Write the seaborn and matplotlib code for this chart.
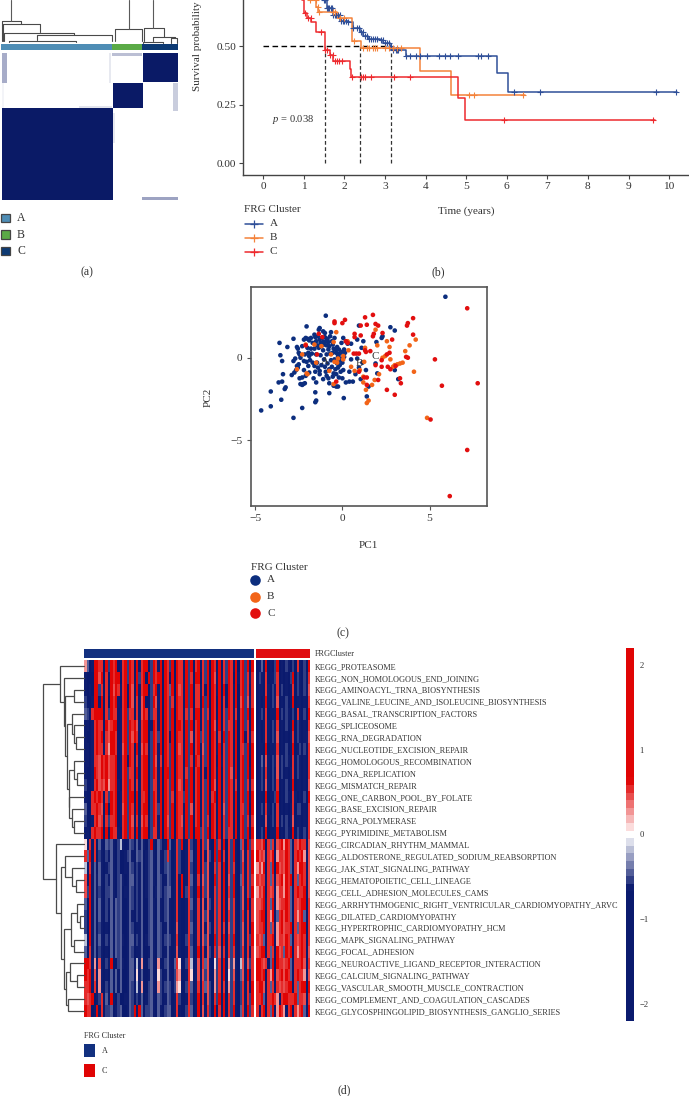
import numpy as np
import pandas as pd
import matplotlib
matplotlib.use("Agg")
import matplotlib.pyplot as plt
from matplotlib.colors import LinearSegmentedColormap, ListedColormap
from matplotlib.patches import Rectangle
import seaborn as sns

W, H = 689, 1096
sns.set_style("white")
plt.rcParams["font.family"] = ["Liberation Serif", "DejaVu Sans"]
plt.rcParams["mathtext.fontset"] = "custom"
plt.rcParams["mathtext.it"] = "Liberation Serif:italic"
plt.rcParams["mathtext.rm"] = "Liberation Serif"
TXT = "#333333"

# ---------- panel (a) data
cluster_sizes = [111, 30, 36]
cluster_colors = ["#4e8db5", "#5aaa46", "#0d3a73"]
consensus_blocks = [  # row0,row1,col0,col1,value
    (0, 30, 1, 6, 0.36), (0, 3, 111, 141, 0.28), (30, 58, 172, 177, 0.22),
    (144, 147, 141, 177, 0.40), (53, 55, 78, 111, 0.12), (0, 30, 108, 110, 0.10),
    (60, 90, 112, 114, 0.10), (30, 55, 1, 3, 0.05),
    (0, 29, 142, 177, 1.0), (30, 55, 112, 142, 1.0), (55, 147, 1, 112, 1.0),
]
dend_a = [  # y_top, x_left, x_right, y_end_left, y_end_right
    (20.5, 2, 21, 41, 24), (24, 3, 39.5, 41, 32), (32.5, 4, 74, 41, 35),
    (35, 37, 112, 40, 41), (40.5, 9, 76, 42, 42), (28.5, 115, 142, 41, 41),
    (27.5, 143.5, 164, 41, 36.5), (36.5, 153, 175, 41, 38), (41.5, 143, 163, 43, 43),
    (38, 171, 177, 43, 43),
]
dend_a_stems = [(11, 0, 20.5), (128.5, 0, 28.5), (153, 0, 27.5)]

# ---------- panel (b) data
km_a_t = [0, 1.30, 1.48, 1.56, 1.73, 1.89, 2.10, 2.22, 2.38, 2.47, 2.59, 2.88, 2.96, 3.12, 3.16, 3.53, 5.75, 6.04, 10.2]
km_a_s = [1, 0.75, 0.698, 0.662, 0.634, 0.610, 0.605, 0.577, 0.563, 0.544, 0.530, 0.527, 0.516, 0.500, 0.484, 0.459, 0.385, 0.306, 0.306]
km_b_t = [0, 1.15, 1.31, 1.36, 1.81, 2.20, 2.40, 3.86, 4.63, 6.45]
km_b_s = [1, 0.698, 0.670, 0.648, 0.620, 0.524, 0.494, 0.395, 0.293, 0.293]
km_c_t = [0, 0.96, 1.00, 1.07, 1.19, 1.31, 1.52, 1.64, 1.73, 2.14, 2.16, 4.79, 4.97, 9.65]
km_c_s = [1, 0.698, 0.641, 0.620, 0.605, 0.563, 0.484, 0.463, 0.437, 0.403, 0.370, 0.278, 0.185, 0.185]
cens_a = [1.50, 1.53, 1.56, 1.60, 1.63, 1.66, 1.70, 1.73, 1.77, 1.80, 1.85, 1.88, 1.92, 1.96, 2.00, 2.05, 2.10, 2.22,
          2.30, 2.35, 2.40, 2.45, 2.50, 2.55, 2.60, 2.65, 2.70, 2.75, 2.80, 2.90, 2.95, 3.00, 3.05, 3.10, 3.15, 3.20, 3.28, 3.30, 3.32,
          3.53, 3.62, 3.76, 3.86, 4.04, 4.33, 4.49, 4.60, 4.81, 5.30, 5.36, 5.55, 6.18, 6.81, 9.68, 10.17]
cens_b = [1.15, 1.30, 1.35, 1.38, 1.72, 1.77, 1.90, 2.00, 2.23, 2.45, 2.55, 2.60, 2.70, 2.75, 2.80, 3.00, 3.10, 3.20, 3.30, 3.40, 5.07, 5.20, 6.40]
cens_c = [1.04, 1.10, 1.17, 1.42, 1.52, 1.58, 1.65, 1.72, 1.77, 1.82, 1.87, 1.93, 2.20, 2.40, 2.45, 2.52, 2.66, 3.22, 3.61, 5.93, 9.60]
median_times = [1.52, 2.39, 3.16]
km_colors = {"A": "#2f4f98", "B": "#f4823a", "C": "#ee2a2e"}

# ---------- panel (c) data
pc_a = [(5.9,3.7),(-4.65,-3.2),(-4.1,-2.95),(-4.1,-2.05),(-3.5,-2.55),(-2.8,-3.65),(-2.3,-3.05),(-1.55,-2.7),(-1.5,-2.6),
(-1.55,-2.1),(0.08,-2.45),(-0.75,-2.15),(-3.65,-1.5),(-3.45,-1.45),(-3.25,-1.8),(-3.3,-1.9),(-2.4,-1.6),(-2.3,-1.65),
(-2.25,-1.6),(-2.15,-1.55),(-1.65,-1.25),(-1.5,-1.5),(-1.1,-1.3),(-0.8,-1.25),(-0.75,-1.55),(-0.5,-1.7),(-0.35,-1.75),
(-0.25,-1.75),(0.2,-1.5),(0.4,-1.45),(0.6,-1.45),(1.05,-1.3),(1.4,-2.35),(1.5,-1.75),(-3.6,0.9),(-3.55,0.15),(-3.45,-0.2),
(-3.4,-1.0),(-3.15,0.65),(-2.9,-1.05),(-2.8,1.15),(-2.75,-0.9),(-2.6,0.65),(-2.55,0.55),(-2.5,0.3),(-2.45,0.2),(-2.8,-0.2),
(-2.7,-0.05),(-2.6,-0.5),(-2.55,-0.6),(-2.5,-0.4),(-2.45,-1.25),(-2.3,-1.2),(-2.2,-0.75),(-2.1,-1.1),(-2.05,1.9),(-2.0,0.6),
(-1.95,0.3),(-1.9,0.1),(-1.85,-0.15),(-0.95,2.55),(-1.35,1.7),(-1.3,1.8),(-1.1,1.6),(-1.0,1.5),(0.95,1.95),(2.75,1.85),
(3.0,1.65),(2.3,1.3),(2.25,1.2),(1.95,0.95),(1.2,1.0),(0.85,1.1),(0.5,0.85),(1.1,0.6),(1.9,-0.35),(2.0,-0.95),(3.0,-0.75),
(3.2,-1.3),(1.35,-0.75),(0.95,-0.6),(1.15,-0.3),(0.85,-0.05),(0.75,-1.0),(0.4,-0.85),(-2.2,1.1),(-2.1,1.2),(-2.0,1.15),
(-1.9,1.05),(-1.8,1.2),(-1.7,0.9),(-1.6,1.4),(-1.55,1.25),(-1.5,1.0),(-1.45,0.75),(-1.4,1.3),(-1.3,1.1),(-1.25,0.9),
(-1.2,0.7),(-1.15,1.2),(-1.1,0.95),(-1.05,0.8),(-1.0,1.25),(-0.95,1.0),(-0.9,0.75),(-0.85,1.15),(-0.8,0.95),(-0.75,0.7),
(-0.7,1.3),(-0.65,1.55),(-0.6,1.0),(-0.55,0.8),(-0.5,0.55),(-0.45,1.2),(-0.4,0.5),(-0.35,0.3),(-0.3,0.65),(-0.25,0.1),
(-0.2,0.5),(-0.15,0.25),(-0.1,-0.05),(-0.05,0.9),(0.0,-0.3),(0.05,1.2),(0.1,0.5),(0.15,0.3),(0.2,1.0),(0.3,0.85),(0.5,-0.1),
(-2.3,0.7),(-2.15,0.2),(-2.05,-0.25),(-1.95,-0.5),(-1.8,0.55),(-1.75,0.25),(-1.7,-0.3),(-1.6,0.55),(-1.55,-0.85),(-1.5,0.2),
(-1.45,-0.3),(-1.4,-0.6),(-1.35,0.6),(-1.3,-0.8),(-1.25,0.15),(-1.2,-0.45),(-1.1,0.45),(-1.05,-0.1),(-1.0,-0.55),(-0.95,-0.85),
(-0.9,0.2),(-0.85,-0.35),(-0.8,0.5),(-0.75,-0.7),(-0.7,0.25),(-0.65,-0.15),(-0.6,-0.55),(-0.55,0.3),(-0.5,-0.95),(-0.45,-0.1),
(-0.4,-0.7),(-0.35,-1.0),(-0.3,-0.35),(-0.25,-0.6),(-0.2,-0.2),(-0.15,-0.45),(-0.1,-0.85),(-0.05,0.35),(0.05,-0.75),(0.1,0.05),
(-1.3,-1.0),(-0.9,-1.1),(-0.55,-1.15),(-0.2,-1.2),(0.0,-1.25),(-1.6,-0.5),(-1.9,-0.9),(-2.4,0.0),(-2.65,-0.75),(-2.2,-0.2)]
pc_b = [(4.85,-3.65),(1.4,-2.75),(1.5,-2.6),(1.35,-1.95),(1.2,-1.5),(1.7,-1.65),(1.85,-1.35),(2.1,-1.0),(4.1,-0.85),(4.2,1.1),
(3.85,0.75),(3.6,0.4),(3.45,-0.3),(3.3,-0.35),(3.15,-0.4),(3.0,-0.45),(2.9,-0.55),(2.75,-0.1),(2.7,0.65),(2.55,1.0),(2.45,0.1),
(2.3,0.0),(2.0,0.75),(1.9,1.7),(1.3,0.6),(1.25,-0.25),(1.2,-1.15),(1.0,-0.75),(0.7,-0.8),(0.5,-0.55),(0.35,0.45),(0.3,1.0),
(0.05,0.1),(0.05,-0.1),(-0.25,-0.05),(-0.3,-0.3),(-0.45,-0.25),(-0.5,0.95),(-0.65,0.2),(-0.75,-0.8),(-0.5,-1.6),(-0.35,1.55),
(-1.2,0.7),(-1.5,-0.3),(-1.6,0.8),(-2.0,-1.0),(-2.05,-0.95),(-2.1,0.8),(-2.3,0.2),(-2.6,-0.7)]
pc_c = [(7.15,3.0),(5.3,-0.1),(7.75,-1.55),(5.7,-1.7),(5.05,-3.75),(7.15,-5.6),(6.15,-8.4),(4.05,2.4),(3.75,2.1),(3.7,1.95),
(4.05,1.4),(3.75,0.0),(3.65,0.05),(3.3,-1.25),(3.35,-1.55),(3.0,-2.25),(2.55,-1.95),(2.75,-0.7),(2.6,-0.55),(3.05,-0.5),
(2.85,1.1),(2.7,0.3),(2.55,0.2),(2.25,-0.15),(2.25,-0.55),(2.05,-1.35),(1.9,-0.45),(2.05,1.95),(1.9,2.05),(1.75,2.6),(1.8,1.45),
(1.75,1.3),(2.3,1.5),(1.3,2.45),(1.4,2.0),(1.05,1.95),(1.05,1.35),(0.7,1.45),(0.7,1.25),(1.3,0.45),(1.35,0.35),(1.6,0.4),
(0.95,0.25),(0.8,0.25),(0.65,0.25),(0.95,-0.85),(1.4,-1.65),(1.25,-1.2),(1.4,-1.2),(-0.45,2.2),(-0.45,2.1),(0.0,2.1),(0.15,2.3),
(-1.35,1.45),(-1.15,1.25),(-2.1,0.75),(-1.45,0.2),(0.2,1.0),(0.3,0.9),(-0.35,-1.45)]
cluster_names = ["A", "B", "C"]
pc_colors = {"A": "#0c2e7e", "B": "#f26418", "C": "#e20f0f"}

# ---------- panel (d) data
pathways = ["KEGG_PROTEASOME","KEGG_NON_HOMOLOGOUS_END_JOINING","KEGG_AMINOACYL_TRNA_BIOSYNTHESIS",
"KEGG_VALINE_LEUCINE_AND_ISOLEUCINE_BIOSYNTHESIS","KEGG_BASAL_TRANSCRIPTION_FACTORS","KEGG_SPLICEOSOME","KEGG_RNA_DEGRADATION",
"KEGG_NUCLEOTIDE_EXCISION_REPAIR","KEGG_HOMOLOGOUS_RECOMBINATION","KEGG_DNA_REPLICATION","KEGG_MISMATCH_REPAIR",
"KEGG_ONE_CARBON_POOL_BY_FOLATE","KEGG_BASE_EXCISION_REPAIR","KEGG_RNA_POLYMERASE","KEGG_PYRIMIDINE_METABOLISM",
"KEGG_CIRCADIAN_RHYTHM_MAMMAL","KEGG_ALDOSTERONE_REGULATED_SODIUM_REABSORPTION","KEGG_JAK_STAT_SIGNALING_PATHWAY",
"KEGG_HEMATOPOIETIC_CELL_LINEAGE","KEGG_CELL_ADHESION_MOLECULES_CAMS","KEGG_ARRHYTHMOGENIC_RIGHT_VENTRICULAR_CARDIOMYOPATHY_ARVC",
"KEGG_DILATED_CARDIOMYOPATHY","KEGG_HYPERTROPHIC_CARDIOMYOPATHY_HCM","KEGG_MAPK_SIGNALING_PATHWAY","KEGG_FOCAL_ADHESION",
"KEGG_NEUROACTIVE_LIGAND_RECEPTOR_INTERACTION","KEGG_CALCIUM_SIGNALING_PATHWAY","KEGG_VASCULAR_SMOOTH_MUSCLE_CONTRACTION",
"KEGG_COMPLEMENT_AND_COAGULATION_CASCADES","KEGG_GLYCOSPHINGOLIPID_BIOSYNTHESIS_GANGLIO_SERIES"]
level_values = [-1.4, -0.6, -0.5, -0.46, -0.2, 0.12, 0.28, 0.42, 0.54, 1.4]
# one digit per sample, read as a level of level_values
heat_a = [
"630199880929 890189298091 899029819098 290988192908 918290981908 298190892919",
"100099790819 899089298092 890929899098 190988192809 908290971908 298091892818",
"101099280819 798189197091 899028919098 390978192908 818190981909 198190892808",
"200199190809 891089197081 790029719098 280988192908 819290980908 198190792718",
"320899990829 880189288081 798028819098 290988182809 918280980908 298180892919",
"110189880978 990189298971 899019819098 290998192908 918290971908 288190892809",
"100189890879 980189297981 899029829098 190988192708 928290981809 298190891818",
"110189880869 980179298091 798029819098 290978192908 917290981908 298190882919",
"110188798978 890189198081 899029718098 290988192809 818290980918 298190892909",
"100198798978 890189288091 899029819099 290988182908 918190981908 297190892919",
"200189787968 891089298081 899028819098 290978192908 918290971908 298180892818",
"100898980829 890189299091 889029819098 280988292908 918290891908 298190892919",
"300889870919 890179298191 899029829098 290988192708 918290981907 298190882909",
"200189780828 890189297081 798029819097 290987192908 918280981908 298190892818",
"110898890919 881089298091 899028819098 290988192909 928290981908 288190892919",
"508180310323 102410132031 310291032019 301829018201 908271092819 082910381928",
"839180210213 102001231032 301231031028 201820018301 908172092918 082910271829",
"418130310123 102001132021 301231031023 201820018201 908271082819 082810281829",
"719131310213 102310133021 301231032013 201819018301 807271092819 072910381828",
"729131210223 102301132021 301230132023 301819028201 908271082819 082910271829",
"309130310213 032300132021 300231031023 101810018301 807172082819 072810271918",
"209130310203 032300131021 300231031023 101810018201 807271082809 082810281818",
"209130210103 032300132011 300231032013 101710018301 807172082818 072810271819",
"409131310213 032310133021 301231032023 201810028201 807271092809 082910271829",
"308130210103 032300132011 300131032013 101710018301 908172082718 082810281818",
"998160710219 002310133041 600231061023 103850028401 708371052819 062610471728",
"989170610103 031300133051 300131052013 102760018501 707271062819 052710371918",
"889180610213 031300132041 600231062023 202650028301 808372062808 062810281819",
"878901280319 102001132021 301231032013 201820018201 908172082919 082810281829",
"988019180223 012300132919 302231031023 301810028301 907182091819 082910381928",
]
heat_c = [
"013090102901 021020810209", "021080112801 010290210218", "011081021802 010180210217",
"010191021701 020190110108", "012080111902 021020810209", "010181021801 020190210108",
"010181021701 010180210117", "011090111801 020190120208", "013071021702 021080210108",
"012081020702 010180210108", "012071021801 020190110107", "011090112901 021081010209",
"012081020801 010180220108", "011070120802 020170110108", "012090111901 021090210208",
"887908380789 698308798807", "978708790688 798308989607", "686908390978 798308699807",
"878808380789 698908389807", "687908780688 698308988907", "778918390678 898308789908",
"789908690389 798308689308", "788908380689 788908389908", "878308890688 798308789808",
"789918380978 398908689807", "998780390988 789308889708", "998908690789 798308988607",
"899708380878 789908389909", "889308898608 998889388708", "808908390698 608908689309",
]
# tree = (height_px, child, child); a leaf is a row index
row_tree = (43, (59.5, 0, (64, 1, (65, (73.5, 2, 3), (67, (71.7, 4, (74, 5, (75.7, 6, 7))), (68.5, (74, 8, (76.7, 9, 10)), (69, 11, (71.7, 12, (74, 13, 14))))))))
            , (56, 15, (61, (65, 16, (72, 17, (76, 18, 19))), (64, (71, (77, 20, (80, 21, 22)), (74, 23, 24)), (66, (69.5, 25, (77, 26, 27)), (67.5, 28, 29))))))

# ---------- helpers
fig = plt.figure(figsize=(W / 100, H / 100), dpi=100, facecolor="white")
def box(l, t, r, b, **kw):
    return fig.add_axes([l / W, 1 - b / H, (r - l) / W, (b - t) / H], **kw)
ov = box(0, 0, W, H, zorder=10)
ov.set_xlim(0, W); ov.set_ylim(H, 0); ov.axis("off"); ov.patch.set_alpha(0)
FS = 8.0
def label(x, y, s, size=FS, ha="left", **kw):
    ov.text(x, y, s, fontsize=size, ha=ha, va="center", color=TXT, **kw)

# ---------- (a)
ax = box(1, 0, 178, 43)
ax.set_xlim(1, 178); ax.set_ylim(43, 0); ax.axis("off")
for y, xl, xr, el, er in dend_a:
    ax.plot([xl, xl, xr, xr], [el, y, y, er], color="#4a4a4a", lw=0.8, clip_on=False)
for x, y0, y1 in dend_a_stems:
    ax.plot([x, x], [y0, y1], color="#5a5a5a", lw=0.8)

ax = box(1, 44, 178, 50)
ann = np.repeat(np.arange(3), cluster_sizes)[None, :]
sns.heatmap(ann, ax=ax, cmap=ListedColormap(cluster_colors), cbar=False, xticklabels=False, yticklabels=False, rasterized=True)

cons = np.zeros((147, 177))
for r0, r1, c0, c1, v in consensus_blocks:
    cons[r0:r1, c0:c1] = v
ax = box(0.5, 53, 177.5, 200)
cm_cons = LinearSegmentedColormap.from_list("cons", ["white", "#0a1a66"])
sns.heatmap(cons, ax=ax, cmap=cm_cons, vmin=0, vmax=1, cbar=False, xticklabels=False, yticklabels=False, rasterized=True)

for yy, nm, c in zip([218, 234.5, 251], cluster_names, cluster_colors):
    ov.add_patch(Rectangle((1, yy - 4.3), 8.8, 8.6, fc=c, ec="#444444", lw=0.9))
    label(17, yy, nm, 8.5)
label(86.5, 272.5, "(a)", 8.5, ha="center")

# ---------- (b)
ax = box(243.3, 0, 689, 175)
ax.set_xlim(-0.49, 10.49); ax.set_ylim(-0.05, 0.698)
sets = [("A", km_a_t, km_a_s, cens_a), ("B", km_b_t, km_b_s, cens_b), ("C", km_c_t, km_c_s, cens_c)]
ax.plot([0, median_times[-1]], [0.5, 0.5], color="black", lw=1.0, ls=(0, (4, 2.5)), zorder=1)
for mt in median_times:
    ax.plot([mt, mt], [0, 0.5], color="#333333", lw=0.9, ls=(0, (3, 2)), zorder=1)
for nm, t, s, cens in sets:
    df = pd.DataFrame({"t": t, "s": s})
    sns.lineplot(data=df, x="t", y="s", ax=ax, color=km_colors[nm], lw=1.1, drawstyle="steps-post",
                 estimator=None, sort=False, legend=False, zorder=3)
    t_arr, s_arr = np.array(t), np.array(s)
    cs = s_arr[np.searchsorted(t_arr, cens, side="right") - 1]
    sns.scatterplot(x=cens, y=cs, ax=ax, marker="+", color=km_colors[nm], s=24, linewidth=0.8, legend=False, zorder=4)
ax.set_xticks(range(11)); ax.set_yticks([0, 0.25, 0.5]); ax.set_yticklabels(["0.00", "0.25", "0.50"])
ax.set_xlabel(""); ax.set_ylabel("")
sns.despine(ax=ax)
for sp in ["left", "bottom"]:
    ax.spines[sp].set_color("#444444"); ax.spines[sp].set_linewidth(1.0)
ax.tick_params(length=3, width=0.8, color="#444444", labelcolor=TXT, labelsize=8.2, pad=2, left=True, bottom=True)
ax.patch.set_alpha(0)
label(272, 119.5, r"$\mathit{p}$ = 0.038", 7.6)
ov.text(197, 46, "Survival probability", rotation=90, fontsize=FS, ha="center", va="center", color=TXT)
label(466, 211, "Time (years)", FS, ha="center")
label(243.5, 210, "FRG Cluster", FS)
for yy, nm in zip([224, 237.5, 251.5], cluster_names):
    ov.plot([245, 263], [yy, yy], color=km_colors[nm], lw=1.1)
    ov.scatter([254], [yy], marker="+", s=30, color=km_colors[nm], linewidths=0.9)
    label(270, yy, nm, FS)
label(438, 272.5, "(b)", 8.5, ha="center")

# ---------- (c)
ax = box(250.7, 286.7, 487.3, 506)
pc = pd.DataFrame(
    [(x, y, "A") for x, y in pc_a] + [(x, y, "B") for x, y in pc_b] + [(x, y, "C") for x, y in pc_c],
    columns=["PC1", "PC2", "cluster"])
sns.scatterplot(data=pc, x="PC1", y="PC2", hue="cluster", palette=pc_colors, ax=ax, s=11, linewidth=0, legend=False)
ax.set_xlim(-5.25, 8.3); ax.set_ylim(-9.0, 4.31)
ax.set_xticks([-5, 0, 5]); ax.set_yticks([-5, 0]); ax.set_xlabel(""); ax.set_ylabel("")
for sp in ax.spines.values():
    sp.set_color("#555555"); sp.set_linewidth(1.2); sp.set_visible(True)
ax.tick_params(length=3, width=0.8, color="#555555", labelcolor=TXT, labelsize=8.2, pad=3, left=True, bottom=True)
for nm, x, y in zip(cluster_names, [-1.0, 1.0, 1.9], [-0.2, -0.35, 0.1]):
    ax.text(x, y, nm, fontsize=FS, color=TXT, ha="center", va="center", zorder=5)
label(368, 545, "PC1", FS, ha="center")
ov.text(208, 397, "PC2", rotation=90, fontsize=FS, ha="center", va="center", color=TXT)
label(251, 567, "FRG Cluster", FS)
for yy, nm in zip([580, 596.7, 613], cluster_names):
    ov.scatter([255], [yy], s=58, color=pc_colors[nm], linewidths=0)
    label(267, yy, nm, FS)
label(343, 633, "(c)", 8.5, ha="center")

# ---------- (d)
tick_font = 5.95
navy, red = "#0a1a6e", "#e00404"
cm = LinearSegmentedColormap.from_list("heat", [(0, navy), (0.352, navy), (0.5, "white"), (0.648, red), (1, red)], N=49)
mat_a = np.array([list(r.replace(" ", "")) for r in heat_a], dtype=int)
mat_c = np.array([list(r.replace(" ", "")) for r in heat_c], dtype=int)
lv = np.array(level_values)
top_y, bot_y = 660, 1017
cax = box(625.7, 648, 633.7, 1020.7)
ax_a = box(84.3, top_y, 253.7, bot_y)
sns.heatmap(pd.DataFrame(lv[mat_a], index=pathways), ax=ax_a, cmap=cm, vmin=-2.2, vmax=2.2, cbar=False,
            xticklabels=False, yticklabels=False, rasterized=True)
ax_c = box(256.3, top_y, 310, bot_y)
sns.heatmap(pd.DataFrame(lv[mat_c], index=pathways), ax=ax_c, cmap=cm, vmin=-2.2, vmax=2.2, cbar_ax=cax,
            xticklabels=False, yticklabels=True, rasterized=True)
ax_c.yaxis.tick_right()
ax_c.tick_params(axis="y", length=0, pad=3.5, labelsize=tick_font, labelcolor=TXT, labelrotation=0)
cbar = ax_c.collections[0].colorbar
cbar.set_ticks([-2, -1, 0, 1, 2])
cbar.ax.tick_params(length=0, labelsize=6.2, labelcolor=TXT, pad=4)
cbar.outline.set_visible(False)

ax = box(84.3, 649, 253.7, 657.7)
sns.heatmap([[0] * mat_a.shape[1]], ax=ax, cmap=ListedColormap(["#12307f"]), cbar=False, xticklabels=False, yticklabels=False, rasterized=True)
ax = box(256.3, 649, 310, 657.7)
sns.heatmap([[0] * mat_c.shape[1]], ax=ax, cmap=ListedColormap(["#e00d10"]), cbar=False, xticklabels=False, yticklabels=["FRGCluster"], rasterized=True)
ax.yaxis.tick_right()
ax.tick_params(axis="y", length=0, pad=3.5, labelsize=tick_font, labelcolor=TXT, labelrotation=0)

# row dendrogram, heights in pixels of the figure, leaves at row centres
row_h = (bot_y - top_y) / len(pathways)
def draw(node):
    if not isinstance(node, tuple):
        return top_y + (node + 0.5) * row_h, 84.3
    h, l, r = node
    yl, xl = draw(l)
    yr, xr = draw(r)
    ov.plot([xl, h, h, xr], [yl, yl, yr, yr], color="#4a4a4a", lw=0.9, solid_joinstyle="miter")
    return (yl + yr) / 2, h
draw(row_tree)

label(84, 1035.7, "FRG Cluster", 5.9)
for y0, c, nm in zip([1044, 1064], ["#12307f", "#e00404"], ["A", "C"]):
    ov.add_patch(Rectangle((84, y0), 11, 13, fc=c, ec="none"))
    label(101.5, y0 + 6.8, nm, 5.9)
label(344, 1090, "(d)", 8.5, ha="center")

fig.savefig("out.png", dpi=100, facecolor="white")
